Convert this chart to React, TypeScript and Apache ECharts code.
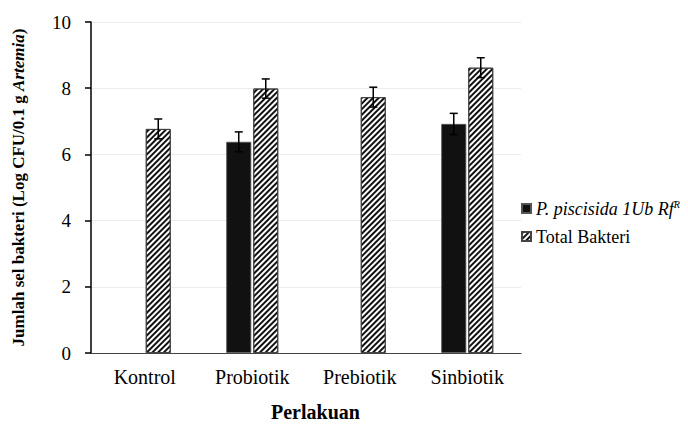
import React, { useEffect, useRef } from "react";
import * as echarts from "echarts";

const categories = ["Kontrol", "Probiotik", "Prebiotik", "Sinbiotik"];
const piscisidaValues: (number | null)[] = [null, 6.38, null, 6.92];
const piscisidaErrors: (number | null)[] = [null, 0.3, null, 0.32];
const totalValues = [6.77, 7.99, 7.73, 8.62];
const totalErrors = [0.3, 0.29, 0.3, 0.3];
const yTicks = [0, 2, 4, 6, 8, 10];

const FONT = "Liberation Serif";
const BAR_W = 25;
const OFFSET = 13.5;

function errorSeries(name: string, vals: (number | null)[], errs: (number | null)[], dx: number) {
  const data = vals
    .map((v, i) => (v == null ? null : [i, v - (errs[i] as number), v + (errs[i] as number)]))
    .filter((d) => d != null);
  return {
    type: "custom",
    name: name + "_err",
    z: 10,
    silent: true,
    data,
    renderItem: (params: any, api: any) => {
      const x = api.value(0);
      const lo = api.coord([x, api.value(1)]);
      const hi = api.coord([x, api.value(2)]);
      const cx = lo[0] + dx;
      const cap = 4;
      const style = { stroke: "#000", lineWidth: 1.5 };
      return {
        type: "group",
        children: [
          { type: "line", shape: { x1: cx, y1: lo[1], x2: cx, y2: hi[1] }, style },
          { type: "line", shape: { x1: cx - cap, y1: lo[1], x2: cx + cap, y2: lo[1] }, style },
          { type: "line", shape: { x1: cx - cap, y1: hi[1], x2: cx + cap, y2: hi[1] }, style },
        ],
      };
    },
  };
}

export default function App() {
  const ref = useRef<HTMLDivElement>(null);
  useEffect(() => {
    if (!ref.current) return;
    const chart = echarts.init(ref.current, null, { renderer: "svg" });
    chart.setOption({
      animation: false,
      backgroundColor: "#fff",
      textStyle: { fontFamily: FONT },
      grid: { left: 91, right: 167, top: 22, bottom: 73, containLabel: false },
      legend: {
        orient: "vertical",
        left: 516,
        top: 194,
        itemWidth: 9,
        itemHeight: 9,
        itemGap: 10,
        icon: "rect",
        data: ["P. piscisida", "Total Bakteri"],
        formatter: (n: string) =>
          n === "P. piscisida" ? "{i|P. piscisida 1Ub Rf}{s|R}" : "{n|Total Bakteri}",
        textStyle: {
          fontFamily: FONT,
          fontSize: 18,
          color: "#000",
          rich: {
            i: { fontFamily: FONT, fontSize: 18, fontStyle: "italic", color: "#000" },
            s: { fontFamily: FONT, fontSize: 10, fontStyle: "italic", color: "#000", verticalAlign: "top", padding: [0, 0, 9, 0] },
            n: { fontFamily: FONT, fontSize: 18, color: "#000" },
          },
        },
      },
      xAxis: {
        type: "category",
        data: categories,
        axisLine: { lineStyle: { color: "#444", width: 1 } },
        axisTick: { show: false },
        axisLabel: { fontFamily: FONT, fontSize: 20, color: "#000", margin: 14 },
      },
      yAxis: {
        type: "value",
        min: 0,
        max: 10,
        interval: 2,
        axisLine: { show: true, lineStyle: { color: "#000", width: 1.5 } },
        axisTick: { show: true, inside: false, length: 6, lineStyle: { color: "#000", width: 1.5 } },
        axisLabel: {
          fontFamily: FONT,
          fontSize: 19,
          color: "#000",
          margin: 20,
          formatter: (v: number) => (yTicks.includes(v) ? String(v) : ""),
        },
        splitLine: { lineStyle: { color: "#ececec", width: 1 } },
        name: "{b|Jumlah sel bakteri (Log CFU/0.1 g }{bi|Artemia}{b|)}",
        nameLocation: "middle",
        nameGap: 64,
        nameRotate: 90,
        nameTextStyle: {
          rich: {
            b: { fontFamily: FONT, fontSize: 17, fontWeight: "bold", color: "#000" },
            bi: { fontFamily: FONT, fontSize: 17, fontWeight: "bold", fontStyle: "italic", color: "#000" },
          },
        },
      },
      graphic: [
        {
          type: "text",
          left: 271,
          top: 402,
          style: { text: "Perlakuan", fontFamily: FONT, fontSize: 20, fontWeight: "bold", fill: "#000" },
        },
      ],
      series: [
        {
          type: "bar",
          name: "P. piscisida",
          data: piscisidaValues,
          barWidth: BAR_W,
          barGap: "8%",
          itemStyle: { color: "#111", borderColor: "#555", borderWidth: 0.8 },
        },
        {
          type: "bar",
          name: "Total Bakteri",
          data: totalValues,
          barWidth: BAR_W,
          itemStyle: {
            color: "#fff",
            borderColor: "#444",
            borderWidth: 1,
            decal: {
              symbol: "rect",
              symbolSize: 1,
              color: "#111",
              backgroundColor: "#fff",
              dashArrayX: [1, 0],
              dashArrayY: [1.8, 1.2],
              rotation: -Math.PI / 4,
            },
          },
        },
        errorSeries("P. piscisida", piscisidaValues, piscisidaErrors, -OFFSET),
        errorSeries("Total Bakteri", totalValues, totalErrors, OFFSET),
      ],
    });
    return () => chart.dispose();
  }, []);
  return <div ref={ref} style={{ width: 688, height: 426, position: "absolute", left: 0, top: 0 }} />;
}
